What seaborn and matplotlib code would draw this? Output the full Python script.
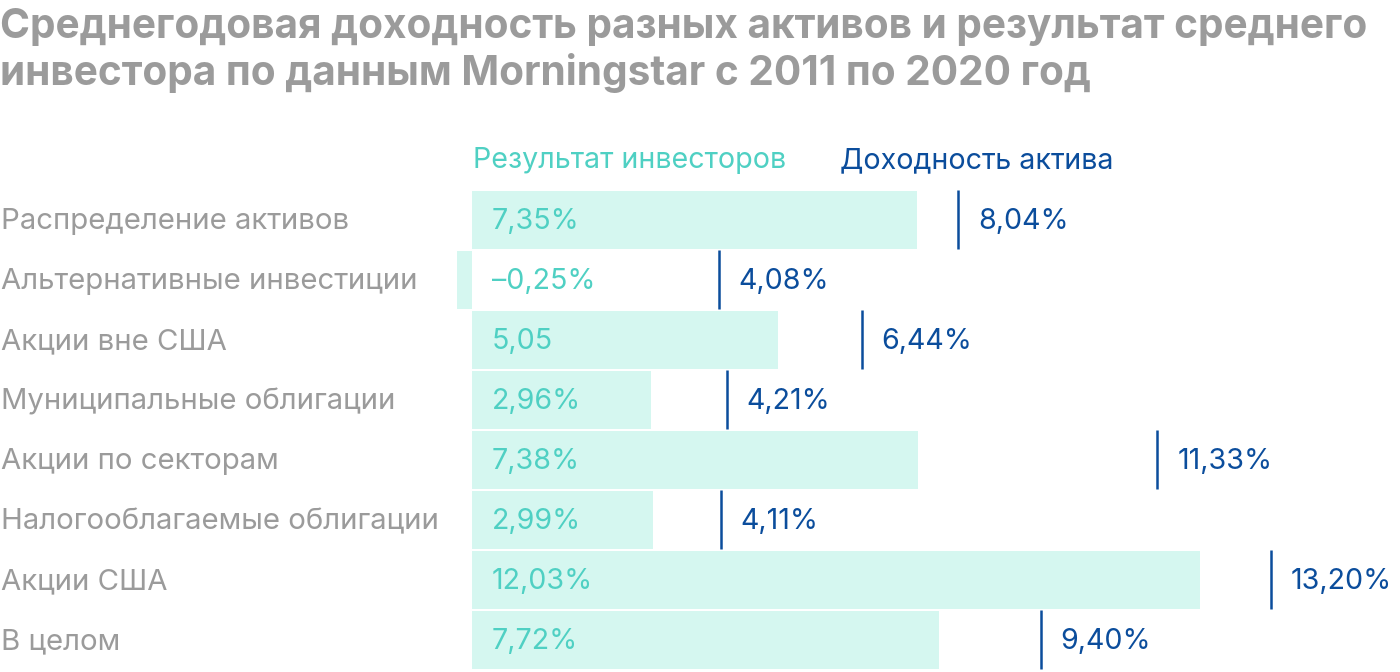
import matplotlib
matplotlib.use("Agg")
import matplotlib.pyplot as plt
import matplotlib.transforms as mtransforms
import seaborn as sns
import pandas as pd

categories = [
    "Распределение активов",
    "Альтернативные инвестиции",
    "Акции вне США",
    "Муниципальные облигации",
    "Акции по секторам",
    "Налогооблагаемые облигации",
    "Акции США",
    "В целом",
]
investor_result = [7.35, -0.25, 5.05, 2.96, 7.38, 2.99, 12.03, 7.72]
asset_return = [8.04, 4.08, 6.44, 4.21, 11.33, 4.11, 13.20, 9.40]
investor_labels = ["7,35%", "–0,25%", "5,05", "2,96%", "7,38%", "2,99%", "12,03%", "7,72%"]
asset_labels = ["8,04%", "4,08%", "6,44%", "4,21%", "11,33%", "4,11%", "13,20%", "9,40%"]

title_lines = ["Среднегодовая доходность разных активов и результат среднего",
               "инвестора по данным Morningstar с 2011 по 2020 год"]
legend_investor = "Результат инвесторов"
legend_asset = "Доходность актива"

BAR = "#d5f7f0"
TEAL = "#4fd0c3"
NAVY = "#0b4d9c"
GREY = "#9b9b9b"

sns.set_theme(style="white")
plt.rcParams["font.family"] = ["Inter", "DejaVu Sans"]

W, H = 1400, 672
fig = plt.figure(figsize=(W / 100, H / 100), dpi=100)
px_per_unit = 60.5
zero_px = 472
ax_left_px, ax_right_px = 440, 1400
top_px, bottom_px = 190, 670
ax = fig.add_axes([ax_left_px / W, 1 - bottom_px / H,
                   (ax_right_px - ax_left_px) / W, (bottom_px - top_px) / H])

df = pd.DataFrame({"cat": categories, "inv": investor_result, "asset": asset_return})
sns.barplot(data=df, x="inv", y="cat", orient="h", color=BAR, width=0.98,
            saturation=1, ax=ax, edgecolor="none")

ax.set_xlim((ax_left_px - zero_px) / px_per_unit, (ax_right_px - zero_px) / px_per_unit)
ax.set_ylim(len(categories) - 0.5, -0.5)

ypos = list(range(len(categories)))
ax.vlines(asset_return, [y - 0.5 for y in ypos], [y + 0.49 for y in ypos],
          color=NAVY, linewidth=1.8)

FS = 20.6
off = 20 / px_per_unit
for y, lab in zip(ypos, investor_labels):
    ax.text(off, y + 0.03, lab, color=TEAL, fontsize=FS, va="center", ha="left")
for y, v, lab in zip(ypos, asset_return, asset_labels):
    ax.text(v + off, y + 0.03, lab, color=NAVY, fontsize=FS, va="center", ha="left")

trans = mtransforms.blended_transform_factory(fig.transFigure, ax.transData)
for y, c in zip(ypos, categories):
    ax.text(1 / W, y + 0.03, c, color=GREY, fontsize=21.1, va="center", ha="left",
            transform=trans, clip_on=False)

ax.set_xlabel("")
ax.set_ylabel("")
ax.set_xticks([])
ax.set_yticks([])
for s in ax.spines.values():
    s.set_visible(False)

fig.text(473 / W, 1 - 161 / H, legend_investor, color=TEAL, fontsize=FS,
         va="center", ha="left")
fig.text(840 / W, 1 - 161 / H, legend_asset, color=NAVY, fontsize=FS,
         va="center", ha="left")

for line, base in zip(title_lines, [38, 85]):
    fig.text(0 / W, 1 - base / H, line, color=GREY, fontsize=29.2,
             fontweight="bold", va="baseline", ha="left")

fig.savefig("out.png", dpi=100, facecolor="white")
